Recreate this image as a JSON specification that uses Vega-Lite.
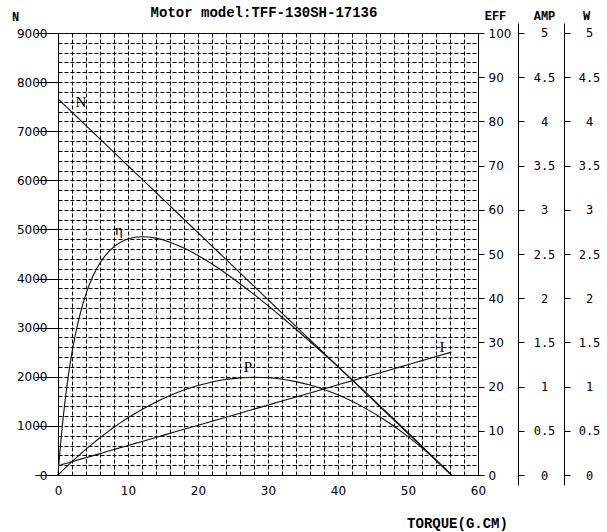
{
  "$schema": "https://vega.github.io/schema/vega-lite/v6.json",
  "width": 420,
  "height": 442,
  "autosize": "none",
  "padding": {"left": 58, "top": 33, "right": 129, "bottom": 57},
  "background": "white",
  "config": {
    "view": {"stroke": "#222", "strokeWidth": 1},
    "axis": {"labelFont": "DejaVu Sans", "labelFontSize": 12, "labelColor": "black", "tickColor": "black", "domainColor": "black", "titleColor": "black", "labelOverlap": false, "titleFont": "Liberation Mono", "titleFontWeight": "bold", "titleFontSize": 12, "titleAngle": 0, "titleAlign": "center", "titleBaseline": "middle", "grid": false}
  },
  "title": {"text": "Motor model:TFF-130SH-17136", "font": "Liberation Mono", "fontSize": 14, "fontWeight": "bold", "color": "black", "anchor": "middle", "frame": "group", "dx": -4, "dy": 15, "offset": 4},
  "datasets": {
    "curve": [
      {"t": 0, "n": 7660, "eff": 0, "amp": 0.105, "w": 0},
      {"t": 0.25, "n": 7626, "eff": 4.87, "amp": 0.111, "w": 0.020},
      {"t": 0.5, "n": 7592, "eff": 9.22, "amp": 0.116, "w": 0.039},
      {"t": 1, "n": 7524, "eff": 16.65, "amp": 0.128, "w": 0.077},
      {"t": 1.5, "n": 7456, "eff": 22.71, "amp": 0.139, "w": 0.115},
      {"t": 2, "n": 7387, "eff": 27.73, "amp": 0.151, "w": 0.152},
      {"t": 3, "n": 7251, "eff": 35.45, "amp": 0.174, "w": 0.223},
      {"t": 4, "n": 7115, "eff": 40.98, "amp": 0.196, "w": 0.292},
      {"t": 5, "n": 6979, "eff": 45.01, "amp": 0.219, "w": 0.358},
      {"t": 6, "n": 6842, "eff": 47.95, "amp": 0.242, "w": 0.422},
      {"t": 7, "n": 6706, "eff": 50.10, "amp": 0.265, "w": 0.482},
      {"t": 8, "n": 6570, "eff": 51.64, "amp": 0.288, "w": 0.540},
      {"t": 9, "n": 6433, "eff": 52.71, "amp": 0.311, "w": 0.595},
      {"t": 10, "n": 6297, "eff": 53.39, "amp": 0.334, "w": 0.647},
      {"t": 12, "n": 6024, "eff": 53.91, "amp": 0.379, "w": 0.742},
      {"t": 14, "n": 5752, "eff": 53.59, "amp": 0.425, "w": 0.827},
      {"t": 16, "n": 5479, "eff": 52.68, "amp": 0.471, "w": 0.900},
      {"t": 18, "n": 5207, "eff": 51.33, "amp": 0.517, "w": 0.962},
      {"t": 20, "n": 4934, "eff": 49.65, "amp": 0.562, "w": 1.013},
      {"t": 22, "n": 4661, "eff": 47.72, "amp": 0.608, "w": 1.053},
      {"t": 24, "n": 4389, "eff": 45.58, "amp": 0.654, "w": 1.082},
      {"t": 26, "n": 4116, "eff": 43.28, "amp": 0.699, "w": 1.099},
      {"t": 28, "n": 3844, "eff": 40.86, "amp": 0.745, "w": 1.105},
      {"t": 30, "n": 3571, "eff": 38.32, "amp": 0.791, "w": 1.100},
      {"t": 32, "n": 3298, "eff": 35.69, "amp": 0.837, "w": 1.084},
      {"t": 34, "n": 3026, "eff": 32.98, "amp": 0.882, "w": 1.056},
      {"t": 36, "n": 2753, "eff": 30.21, "amp": 0.928, "w": 1.018},
      {"t": 38, "n": 2481, "eff": 27.38, "amp": 0.974, "w": 0.968},
      {"t": 40, "n": 2208, "eff": 24.51, "amp": 1.020, "w": 0.907},
      {"t": 42, "n": 1935, "eff": 21.59, "amp": 1.065, "w": 0.835},
      {"t": 44, "n": 1663, "eff": 18.63, "amp": 1.111, "w": 0.751},
      {"t": 46, "n": 1390, "eff": 15.64, "amp": 1.157, "w": 0.657},
      {"t": 48, "n": 1118, "eff": 12.62, "amp": 1.203, "w": 0.551},
      {"t": 50, "n": 845, "eff": 9.58, "amp": 1.248, "w": 0.434},
      {"t": 52, "n": 572, "eff": 6.51, "amp": 1.294, "w": 0.306},
      {"t": 54, "n": 300, "eff": 3.42, "amp": 1.340, "w": 0.166},
      {"t": 56.2, "n": 0, "eff": 0, "amp": 1.390, "w": 0}
    ],
    "labels": [
      {"t": 3.29, "n": 7595, "label": "N"},
      {"t": 8.71, "n": 4989, "label": "η"},
      {"t": 27.14, "n": 2199, "label": "P"},
      {"t": 54.86, "n": 2606, "label": "I"}
    ]
  },
  "encoding": {
    "x": {
      "field": "t", "type": "quantitative",
      "scale": {"domain": [0, 60], "nice": false, "zero": false},
      "axis": {
        "values": [0,2,4,6,8,10,12,14,16,18,20,22,24,26,28,30,32,34,36,38,40,42,44,46,48,50,52,54,56,58,60],
        "labelExpr": "datum.value % 10 === 0 ? datum.label : ''",
        "grid": true, "gridColor": "black", "gridDash": [4, 2], "gridWidth": 1, "gridOpacity": 1,
        "ticks": false, "tickSize": 0, "labelPadding": 10, "labelFlush": false,
        "title": "TORQUE(G.CM)", "titleFontSize": 14, "titleX": 399, "titleY": 48
      }
    }
  },
  "layer": [
    {
      "data": {"name": "curve"},
      "mark": {"type": "line", "interpolate": "monotone", "color": "#111", "strokeWidth": 1.1},
      "encoding": {
        "y": {
          "field": "n", "type": "quantitative",
          "scale": {"domain": [0, 9000], "nice": false, "zero": false},
          "axis": {
            "orient": "left",
            "values": [0,200,400,600,800,1000,1200,1400,1600,1800,2000,2200,2400,2600,2800,3000,3200,3400,3600,3800,4000,4200,4400,4600,4800,5000,5200,5400,5600,5800,6000,6200,6400,6600,6800,7000,7200,7400,7600,7800,8000,8200,8400,8600,8800,9000],
            "format": "d",
            "labelExpr": "datum.value % 1000 === 0 ? datum.label : ''",
            "grid": true, "gridColor": "black", "gridDash": [4, 2], "gridWidth": 1, "gridOpacity": 1,
            "tickSize": 23,
            "tickOpacity": {"condition": {"test": "datum.value % 1000 === 0", "value": 1}, "value": 0},
            "labelPadding": -12, "labelBaseline": "middle",
            "title": "N", "titleX": -43, "titleY": -17
          }
        }
      }
    },
    {
      "data": {"name": "labels"},
      "mark": {"type": "text", "font": "Liberation Serif", "fontSize": 15, "color": "black", "align": "center", "baseline": "middle"},
      "encoding": {
        "y": {"field": "n", "type": "quantitative", "scale": {"domain": [0, 9000], "nice": false, "zero": false}, "axis": null},
        "text": {"field": "label"}
      }
    },
    {
      "data": {"name": "curve"},
      "mark": {"type": "line", "interpolate": "monotone", "color": "#111", "strokeWidth": 1.1},
      "encoding": {
        "y": {
          "field": "eff", "type": "quantitative",
          "scale": {"domain": [0, 100], "nice": false, "zero": false},
          "axis": {
            "orient": "right",
            "values": [0,10,20,30,40,50,60,70,80,90,100],
            "tickSize": 6, "labelPadding": 4, "labelBaseline": "middle",
            "title": "EFF", "titleX": 17, "titleY": -18
          }
        }
      }
    },
    {
      "data": {"name": "curve"},
      "mark": {"type": "line", "interpolate": "monotone", "color": "#111", "strokeWidth": 1.1},
      "encoding": {
        "y": {
          "field": "amp", "type": "quantitative",
          "scale": {"domain": [-0.1131, 5.1131], "range": [452, -10], "nice": false, "zero": false},
          "axis": {
            "orient": "right", "offset": 40,
            "values": [0,0.5,1,1.5,2,2.5,3,3.5,4,4.5,5],
            "labelExpr": "'' + datum.value",
            "labelFont": "DejaVu Sans Mono",
            "tickSize": 6, "labelPadding": 20, "labelAlign": "center", "labelBaseline": "middle",
            "title": "AMP", "titleX": 26, "titleY": -18
          }
        }
      }
    },
    {
      "data": {"name": "curve"},
      "mark": {"type": "line", "interpolate": "monotone", "color": "#111", "strokeWidth": 1.1},
      "encoding": {
        "y": {
          "field": "w", "type": "quantitative",
          "scale": {"domain": [-0.1131, 5.1131], "range": [452, -10], "nice": false, "zero": false},
          "axis": {
            "orient": "right", "offset": 86,
            "values": [0,0.5,1,1.5,2,2.5,3,3.5,4,4.5,5],
            "labelExpr": "'' + datum.value",
            "labelFont": "DejaVu Sans Mono",
            "tickSize": 6, "labelPadding": 19, "labelAlign": "center", "labelBaseline": "middle",
            "title": "W", "titleX": 22, "titleY": -18
          }
        }
      }
    }
  ],
  "resolve": {"scale": {"y": "independent"}, "axis": {"y": "independent"}}
}
